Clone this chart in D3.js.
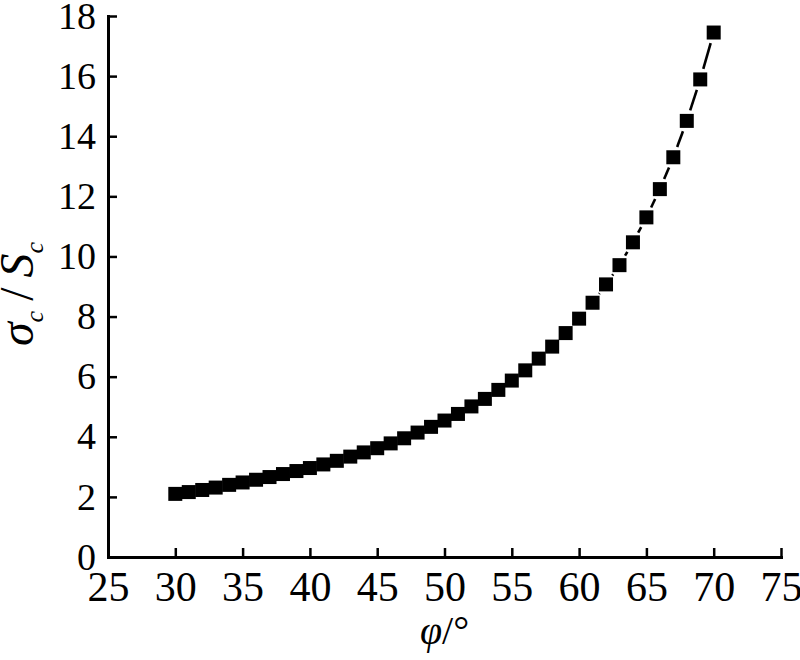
<!DOCTYPE html>
<meta charset="utf-8">
<script src="https://d3js.org/d3.v7.min.js"></script>
<body style="margin:0">
<script>

// friction angle (deg) and strength ratio
var phi = [30, 31, 32, 33, 34, 35, 36, 37, 38, 39,
           40, 41, 42, 43, 44, 45, 46, 47, 48, 49,
           50, 51, 52, 53, 54, 55, 56, 57, 58, 59,
           60, 61, 62, 63, 64, 65, 66, 67, 68, 69, 70];
var ratio = [2.10, 2.16, 2.23, 2.31, 2.40, 2.48, 2.57, 2.66, 2.76, 2.86,
             2.96, 3.08, 3.20, 3.34, 3.48, 3.62, 3.78, 3.95, 4.14, 4.33,
             4.54, 4.76, 5.01, 5.26, 5.56, 5.87, 6.21, 6.60, 7.00, 7.45,
             7.93, 8.46, 9.07, 9.71, 10.47, 11.30, 12.24, 13.30, 14.51, 15.89, 17.45];

var xTicks = [25, 30, 35, 40, 45, 50, 55, 60, 65, 70, 75];
var yTicks = [0, 2, 4, 6, 8, 10, 12, 14, 16, 18];

var width = 800,
    height = 660;
var font = "Liberation Serif";

var svg = d3.select("body").append("svg")
    .attr("width", width)
    .attr("height", height);

var x = d3.scaleLinear().domain([25, 75]).range([108, 781]);
var y = d3.scaleLinear().domain([0, 18]).range([557, 16]);

var points = phi.map(function(p, i) { return { x: x(p), y: y(ratio[i]) }; });

// line between markers, broken with a small gap around each square
var gap = 11;
var segs = [];
for (var i = 0; i < points.length - 1; i++) {
    var a = points[i], b = points[i + 1];
    var dx = b.x - a.x, dy = b.y - a.y, len = Math.sqrt(dx * dx + dy * dy);
    if (len <= 2 * gap) continue;
    var ux = dx / len, uy = dy / len;
    segs.push({ x1: a.x + ux * gap, y1: a.y + uy * gap, x2: b.x - ux * gap, y2: b.y - uy * gap });
}

svg.append("g")
    .selectAll("line")
    .data(segs)
    .enter().append("line")
    .attr("x1", function(d) { return d.x1; })
    .attr("y1", function(d) { return d.y1; })
    .attr("x2", function(d) { return d.x2; })
    .attr("y2", function(d) { return d.y2; })
    .attr("stroke", "#000")
    .attr("stroke-width", 2.6);

// square markers
var size = 14;
svg.append("g")
    .selectAll("rect")
    .data(points)
    .enter().append("rect")
    .attr("x", function(d) { return d.x - size / 2; })
    .attr("y", function(d) { return d.y - size / 2; })
    .attr("width", size)
    .attr("height", size)
    .attr("fill", "#000");

// axes, ticks pointing inward
var xAxis = svg.append("g")
    .attr("transform", "translate(0," + y(0) + ")")
    .call(d3.axisBottom(x).tickValues(xTicks).tickSizeInner(-9).tickSizeOuter(0).tickPadding(14));

var yAxis = svg.append("g")
    .attr("transform", "translate(" + x(25) + ",0)")
    .call(d3.axisLeft(y).tickValues(yTicks).tickSizeInner(-9).tickSizeOuter(0).tickPadding(12));

[xAxis, yAxis].forEach(function(g) {
    g.attr("font-family", font);
    g.select(".domain").attr("stroke", "#000").attr("stroke-width", 3).attr("stroke-linecap", "square");
    g.selectAll(".tick line").attr("stroke", "#000").attr("stroke-width", 2.5);
    g.selectAll(".tick text").attr("fill", "#000").attr("font-family", font);
});
xAxis.attr("font-size", 42);
yAxis.attr("font-size", 38);

// axis titles
var xt = svg.append("text")
    .attr("x", (x(25) + x(75)) / 2)
    .attr("y", 644)
    .attr("text-anchor", "middle")
    .attr("font-family", font)
    .attr("font-size", 40);
xt.append("tspan").attr("font-style", "italic").text("φ");
xt.append("tspan").text("/°");

var yt = svg.append("text")
    .attr("transform", "translate(33,294) rotate(-90)")
    .attr("text-anchor", "middle")
    .attr("font-family", font)
    .attr("font-size", 48);
yt.append("tspan").attr("font-style", "italic").text("σ");
yt.append("tspan").attr("font-style", "italic").attr("font-size", 26).attr("dy", 10).text("c");
yt.append("tspan").attr("dx", 10).attr("dy", -10).text("/");
yt.append("tspan").attr("dx", 10).attr("font-style", "italic").text("S");
yt.append("tspan").attr("font-style", "italic").attr("font-size", 26).attr("dy", 10).text("c");

</script>
</body>
